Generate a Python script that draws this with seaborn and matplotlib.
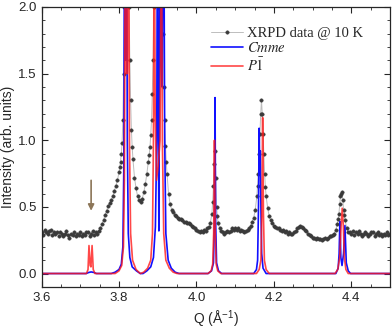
import numpy as np
import seaborn as sns
import matplotlib.pyplot as plt
from matplotlib.ticker import MultipleLocator

# measured XRPD pattern @ 10 K (Q in 1/A, intensity arb. units)
# finer steps on the flanks of the Bragg peaks
q_data = [
    3.600, 3.604, 3.608, 3.612, 3.616, 3.620, 3.624, 3.628, 3.632, 3.636,
    3.640, 3.644, 3.648, 3.652, 3.656, 3.660, 3.664, 3.668, 3.672, 3.676,
    3.680, 3.684, 3.688, 3.692, 3.696, 3.700, 3.704, 3.708, 3.712, 3.716,
    3.720, 3.724, 3.728, 3.732, 3.736, 3.740, 3.744, 3.748, 3.752, 3.756,
    3.760, 3.764, 3.768, 3.772, 3.776, 3.780, 3.784, 3.788, 3.792, 3.796,
    3.800, 3.802, 3.804, 3.806, 3.808, 3.810, 3.812, 3.814, 3.816, 3.818,
    3.820, 3.822, 3.824, 3.826, 3.828, 3.830, 3.832, 3.834, 3.836,
    3.840, 3.844, 3.848, 3.852, 3.856, 3.860, 3.864, 3.868, 3.872,
    3.876, 3.878, 3.880, 3.882, 3.884, 3.886, 3.888, 3.890, 3.892, 3.894,
    3.896, 3.900, 3.904, 3.908, 3.910, 3.912, 3.914, 3.916, 3.918, 3.920,
    3.922, 3.924, 3.928, 3.932, 3.936, 3.940, 3.944, 3.948, 3.952, 3.956,
    3.960, 3.964, 3.968, 3.972, 3.976, 3.980, 3.984, 3.988, 3.992, 3.996,
    4.000, 4.004, 4.008, 4.012, 4.016, 4.020, 4.024, 4.028, 4.032, 4.036,
    4.040, 4.042, 4.044, 4.046, 4.048, 4.050, 4.052, 4.054, 4.056,
    4.060, 4.064, 4.068, 4.072, 4.076,
    4.080, 4.084, 4.088, 4.092, 4.096, 4.100, 4.104, 4.108, 4.112, 4.116,
    4.120, 4.124, 4.128, 4.132, 4.136, 4.140, 4.144, 4.148, 4.152,
    4.156, 4.158, 4.160, 4.162, 4.164, 4.166, 4.168, 4.170, 4.172, 4.174,
    4.176, 4.178, 4.180, 4.184, 4.188, 4.192, 4.196,
    4.200, 4.204, 4.208, 4.212, 4.216, 4.220, 4.224, 4.228, 4.232, 4.236,
    4.240, 4.244, 4.248, 4.252, 4.256, 4.260, 4.264, 4.268, 4.272, 4.276,
    4.280, 4.284, 4.288, 4.292, 4.296, 4.300, 4.304, 4.308, 4.312, 4.316,
    4.320, 4.324, 4.328, 4.332, 4.336, 4.340, 4.344, 4.348, 4.352, 4.356,
    4.360, 4.364, 4.366, 4.368, 4.370, 4.372, 4.374, 4.376, 4.378, 4.380,
    4.382, 4.384, 4.388, 4.392, 4.396,
    4.400, 4.404, 4.408, 4.412, 4.416, 4.420, 4.424, 4.428, 4.432, 4.436,
    4.440, 4.444, 4.448, 4.452, 4.456, 4.460, 4.464, 4.468, 4.472, 4.476,
    4.480, 4.484, 4.488, 4.492, 4.496, 4.500,
]
i_data = [
    0.31, 0.29, 0.33, 0.31, 0.30, 0.32, 0.33, 0.29, 0.31, 0.30,
    0.31, 0.28, 0.31, 0.30, 0.28, 0.30, 0.32, 0.29, 0.27, 0.30,
    0.29, 0.31, 0.28, 0.30, 0.29, 0.31, 0.28, 0.30, 0.29, 0.31,
    0.31, 0.28, 0.30, 0.32, 0.29, 0.31, 0.30, 0.32, 0.34, 0.37,
    0.40, 0.44, 0.47, 0.51, 0.53, 0.55, 0.58, 0.62, 0.66, 0.70,
    0.76, 0.80, 0.84, 0.90, 0.98, 1.15, 1.50, 2.00, 2.60, 3.00,
    3.20, 3.00, 2.50, 2.00, 1.60, 1.30, 1.08, 0.95, 0.86,
    0.72, 0.64, 0.58, 0.55, 0.54, 0.56, 0.61, 0.67, 0.75,
    0.84, 0.89, 0.95, 1.04, 1.15, 1.35, 1.60, 2.00, 2.60, 3.00,
    3.30, 3.50, 3.40, 3.20, 2.80, 2.30, 1.80, 1.40, 1.15, 0.96,
    0.84, 0.75, 0.60, 0.52, 0.48, 0.46, 0.44, 0.43, 0.42, 0.41,
    0.41, 0.40, 0.39, 0.39, 0.38, 0.38, 0.37, 0.36, 0.35, 0.34,
    0.33, 0.32, 0.31, 0.32, 0.31, 0.33, 0.32, 0.34, 0.35, 0.38,
    0.45, 0.54, 0.66, 0.82, 0.92, 0.72, 0.50, 0.43, 0.38,
    0.34, 0.32, 0.31, 0.30, 0.31,
    0.32, 0.31, 0.32, 0.34, 0.33, 0.34, 0.33, 0.34, 0.32, 0.33,
    0.32, 0.31, 0.32, 0.33, 0.34, 0.36, 0.39, 0.42, 0.48,
    0.58, 0.66, 0.75, 0.90, 1.05, 1.20, 1.30, 1.20, 1.05, 0.90,
    0.75, 0.65, 0.58, 0.49, 0.43, 0.40, 0.38,
    0.36, 0.35, 0.34, 0.34, 0.33, 0.32, 0.33, 0.31, 0.32, 0.30,
    0.31, 0.30, 0.30, 0.31, 0.32, 0.34, 0.35, 0.36, 0.35, 0.34,
    0.33, 0.32, 0.30, 0.29, 0.28, 0.27, 0.27, 0.26, 0.27, 0.26,
    0.26, 0.25, 0.26, 0.27, 0.26, 0.27, 0.28, 0.28, 0.29, 0.30,
    0.33, 0.37, 0.41, 0.45, 0.52, 0.58, 0.60, 0.61, 0.55, 0.48,
    0.44, 0.40, 0.34, 0.31, 0.31,
    0.30, 0.32, 0.29, 0.31, 0.30, 0.32, 0.30, 0.28, 0.30, 0.31,
    0.30, 0.28, 0.30, 0.31, 0.31, 0.28, 0.30, 0.31, 0.29, 0.30,
    0.28, 0.30, 0.29, 0.31, 0.29, 0.30,
]

# calculated pattern, Cmme model
q_cmme = [3.600, 3.715, 3.722, 3.728, 3.735, 3.742, 3.780, 3.790, 3.800, 3.806,
          3.810, 3.8125, 3.8145, 3.8165, 3.8195, 3.8215, 3.824, 3.828, 3.834, 3.845,
          3.855, 3.862, 3.872, 3.882, 3.889, 3.894, 3.8975, 3.8995, 3.9013, 3.903,
          3.9045, 3.9063, 3.9085, 3.911, 3.9155, 3.918, 3.921, 3.927, 3.935, 3.945,
          3.955, 4.030, 4.039, 4.044, 4.0465, 4.048, 4.0495, 4.052, 4.057, 4.065,
          4.148, 4.155, 4.158, 4.1603, 4.162, 4.1635, 4.165, 4.1665, 4.1685, 4.172,
          4.180, 4.360, 4.366, 4.3685, 4.3705, 4.373, 4.376, 4.380, 4.3835, 4.387,
          4.392, 4.398, 4.500]
i_cmme = [0.0, 0.0, 0.008, 0.012, 0.008, 0.0, 0.0, 0.01, 0.03, 0.07,
          0.2, 0.8, 3.0, 1.6, 3.0, 1.0, 0.3, 0.12, 0.05, 0.02,
          0.0, 0.0, 0.02, 0.05, 0.12, 0.35, 1.0, 3.0, 1.4, 0.32,
          1.4, 3.0, 1.6, 1.4, 3.0, 1.0, 0.3, 0.1, 0.04, 0.01,
          0.0, 0.0, 0.02, 0.08, 0.4, 1.32, 0.4, 0.08, 0.02, 0.0,
          0.0, 0.03, 0.1, 0.5, 1.09, 0.75, 0.92, 0.5, 0.15, 0.04,
          0.0, 0.0, 0.04, 0.15, 0.39, 0.12, 0.06, 0.15, 0.36, 0.08,
          0.02, 0.0, 0.0]

# calculated pattern, P-1 model
q_p1 = [3.600, 3.716, 3.720, 3.7225, 3.7255, 3.7275, 3.7305, 3.7335, 3.738, 3.790,
        3.800, 3.807, 3.8115, 3.814, 3.8165, 3.819, 3.8215, 3.8245, 3.827, 3.830,
        3.835, 3.844, 3.855, 3.864, 3.874, 3.882, 3.8865, 3.889, 3.891, 3.8935,
        3.897, 3.901, 3.906, 3.9095, 3.912, 3.9155, 3.921, 3.930, 3.940, 3.950,
        4.030, 4.038, 4.042, 4.0445, 4.0465, 4.0485, 4.051, 4.055, 4.063, 4.155,
        4.162, 4.1665, 4.169, 4.171, 4.173, 4.1755, 4.180, 4.188, 4.358, 4.365,
        4.370, 4.3735, 4.3765, 4.3795, 4.382, 4.386, 4.392, 4.500]
i_p1 = [0.0, 0.0, 0.03, 0.21, 0.06, 0.05, 0.21, 0.03, 0.0, 0.0,
        0.02, 0.06, 0.2, 0.7, 3.0, 1.5, 1.5, 3.0, 1.0, 0.3,
        0.1, 0.03, 0.0, 0.01, 0.04, 0.1, 0.3, 1.0, 3.0, 1.2,
        0.7, 0.8, 1.0, 3.0, 1.0, 0.3, 0.1, 0.04, 0.01, 0.0,
        0.0, 0.02, 0.07, 0.3, 1.0, 0.3, 0.07, 0.02, 0.0, 0.0,
        0.03, 0.1, 0.45, 1.17, 0.45, 0.1, 0.03, 0.0, 0.0, 0.03,
        0.12, 0.35, 0.49, 0.35, 0.12, 0.03, 0.0, 0.0]

sns.set_style("ticks")
plt.rcParams["font.family"] = ["Liberation Sans", "DejaVu Sans"]
plt.rcParams["mathtext.fontset"] = "stix"

fig = plt.figure(figsize=(3.92, 3.32), dpi=100)
ax = fig.add_axes([0.106, 0.136, 0.889, 0.843])

sns.lineplot(x=q_data, y=i_data, ax=ax, color="#bdbdbd", lw=0.7, marker="o",
             markersize=2.5, markerfacecolor="#3a3a3a", markeredgecolor="#3a3a3a",
             markeredgewidth=0.3, estimator=None, sort=False, label="XRPD data @ 10 K")
sns.lineplot(x=q_cmme, y=i_cmme, ax=ax, color="#1010ff", lw=1.2,
             estimator=None, sort=False, label="$Cmme$")
sns.lineplot(x=q_p1, y=i_p1, ax=ax, color="#ff1a1a", lw=1.2, alpha=0.8,
             estimator=None, sort=False, label=r"$P\bar{1}$")

# arrow marking the extra P-1 reflection
ax.annotate("", xy=(3.728, 0.45), xytext=(3.728, 0.72),
            arrowprops=dict(arrowstyle="-|>", color="#8c7658", lw=1.2, mutation_scale=9))

ax.set_xlim(3.6, 4.5)
ax.set_ylim(-0.1, 2.0)
ax.xaxis.set_major_locator(MultipleLocator(0.2))
ax.xaxis.set_minor_locator(MultipleLocator(0.05))
ax.yaxis.set_major_locator(MultipleLocator(0.5))
ax.yaxis.set_minor_locator(MultipleLocator(0.1))
ax.tick_params(which="both", direction="in", top=True, right=True, labelsize=9.5)
ax.tick_params(which="major", length=4, width=0.8)
ax.tick_params(which="minor", length=2, width=0.6)
for s in ax.spines.values():
    s.set_linewidth(0.9)

ax.set_xlabel("Q (Å$^{\\mathregular{-1}}$)", fontsize=10, labelpad=3)
ax.set_ylabel("Intensity (arb. units)", fontsize=10, labelpad=2)

ax.legend(loc="upper left", bbox_to_anchor=(0.487, 0.93), frameon=False,
          prop={"family": "Liberation Serif", "size": 10.5}, handlelength=2.2,
          handletextpad=0.25, labelspacing=0.1, borderpad=0, borderaxespad=0)

fig.savefig("out.png", dpi=100)
